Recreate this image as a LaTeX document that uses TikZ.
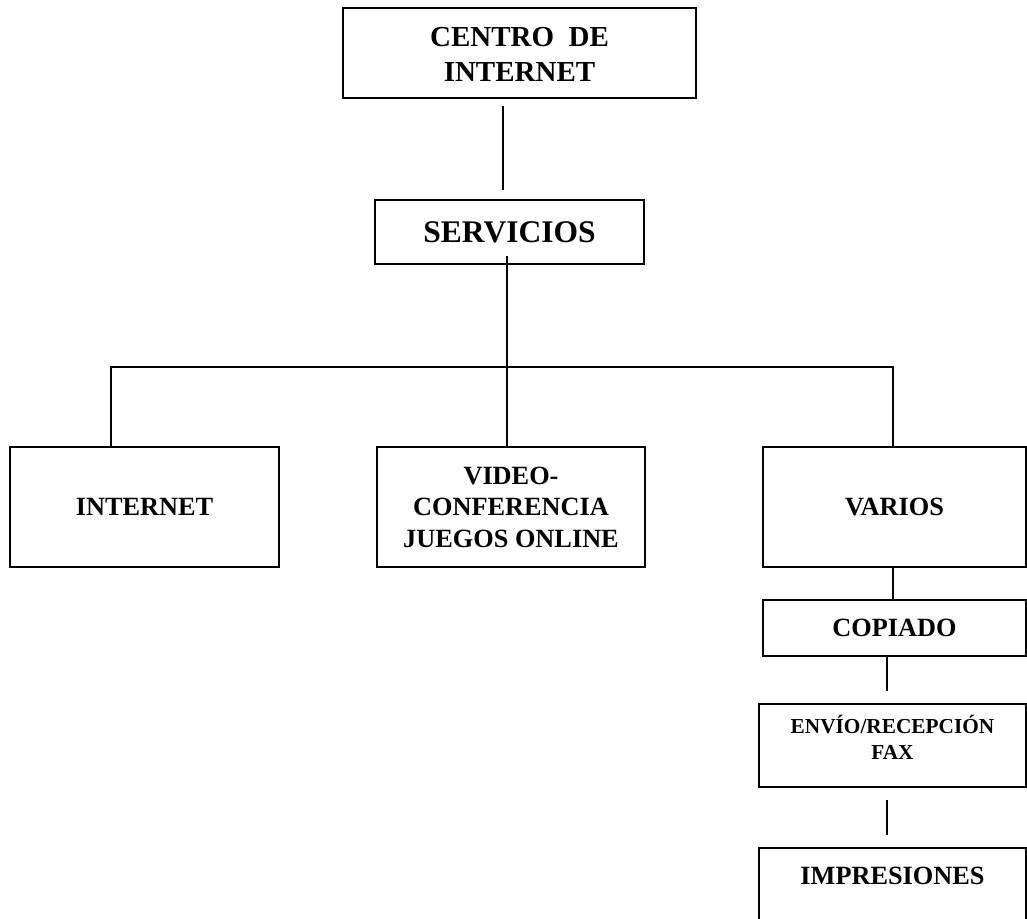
\documentclass[tikz,border=0pt]{standalone}
\usepackage{fontspec}
\setmainfont{Liberation Serif}
% shift the contents of a box vertically without changing its size
\newcommand{\shiftlines}[2]{\raisebox{#1}[\height][\depth]{\begin{tabular}{@{}c@{}}#2\end{tabular}}}
\begin{document}
\begin{tikzpicture}[x=1pt,y=-1pt,
  box/.style={draw, line width=1.8pt, inner sep=0pt, align=center},
  conn/.style={line width=1.6pt},
  big/.style={font=\fontsize{29}{35}\selectfont\bfseries},
  huge/.style={font=\fontsize{31.5}{38}\selectfont\bfseries},
  mid/.style={font=\fontsize{26.3}{31.5}\selectfont\bfseries},
  small/.style={font=\fontsize{21.3}{26}\selectfont\bfseries}]
\useasboundingbox (0,0) rectangle (1027,918);
\clip (0,0) rectangle (1027,918);

% top of the hierarchy
\node[box, big, minimum width=353pt, minimum height=89.5pt] (centro) at (519.5,53) {\shiftlines{-4pt}{CENTRO\hspace{0.5em}DE\\INTERNET}};
\node[box, huge, minimum width=269pt, minimum height=64pt] (serv) at (509.5,232) {SERVICIOS};

% second level
\node[box, mid, minimum width=269pt, minimum height=120pt] (inet) at (144.5,507) {INTERNET};
\node[box, mid, minimum width=268pt, minimum height=120pt] (video) at (511,507) {VIDEO-\\CONFERENCIA\\JUEGOS ONLINE};
\node[box, mid, minimum width=263pt, minimum height=120pt] (varios) at (894.5,507) {VARIOS};

% services listed under VARIOS
\node[box, mid, minimum width=263pt, minimum height=56pt] (copiado) at (894.5,628) {COPIADO};
\node[box, small, minimum width=267pt, minimum height=83pt] (envio) at (892.5,745.5) {\shiftlines{4pt}{ENVÍO/RECEPCIÓN\\FAX}};
\node[box, minimum width=267pt, minimum height=92pt] (impbox) at (892.5,894) {};
\node[mid, inner sep=0pt] (implbl) at (892.5,876) {IMPRESIONES};

% connectors
\coordinate (t1) at (503,106);
\coordinate (t2) at (503,190);
\draw[conn] (t1) -- (t2);

\coordinate (s1) at (507,256);
\draw[conn] (s1) -- (s1 |- video.north);

\coordinate (bl) at (111,367);
\coordinate (br) at (893,367);
\draw[conn] (bl |- inet.north) -- (bl) -- (br) -- (br |- varios.north);
\draw[conn] (br |- varios.south) -- (br |- copiado.north);

\coordinate (r1a) at (887,657);
\coordinate (r1b) at (887,691);
\draw[conn] (r1a) -- (r1b);
\coordinate (r2a) at (887,800);
\coordinate (r2b) at (887,835);
\draw[conn] (r2a) -- (r2b);
\end{tikzpicture}
\end{document}
